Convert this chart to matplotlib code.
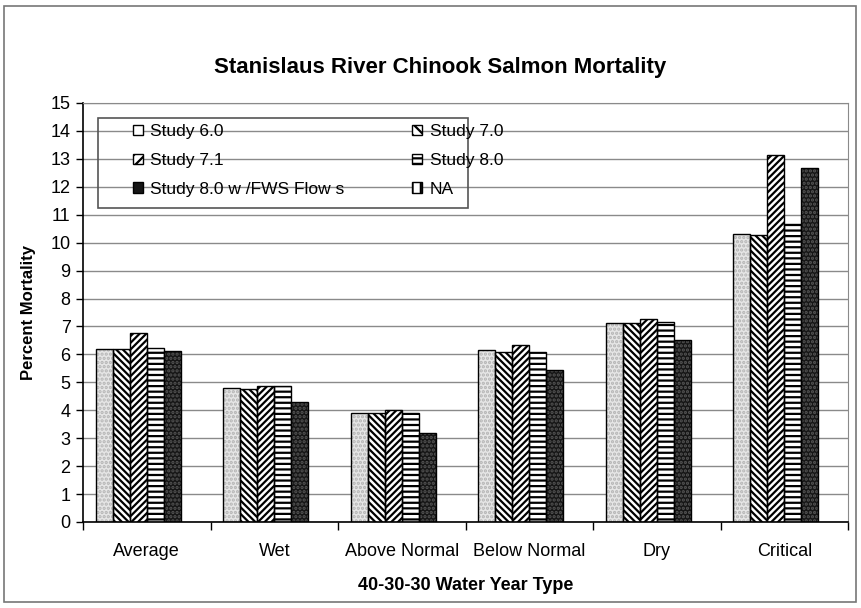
import numpy as np
import matplotlib.pyplot as plt
from matplotlib.patches import Patch, Rectangle

# values (percent mortality)
categories = ["Average", "Wet", "Above Normal", "Below Normal", "Dry", "Critical"]
study_60 = [6.18, 4.79, 3.90, 6.15, 7.12, 10.32]
study_70 = [6.18, 4.76, 3.92, 6.08, 7.12, 10.26]
study_71 = [6.76, 4.88, 4.02, 6.33, 7.27, 13.14]
study_80 = [6.24, 4.88, 3.90, 6.08, 7.15, 10.68]
study_80_fws = [6.12, 4.29, 3.18, 5.45, 6.53, 12.68]
study_na = [np.nan] * 6

plt.rcParams['font.family'] = ['Liberation Sans', 'DejaVu Sans']
plt.rcParams['hatch.linewidth'] = 1.6

BS = chr(92)  # backslash, for the "\" hatch

W, H = 861, 608
fig = plt.figure(figsize=(W / 100, H / 100), dpi=100)
ax = fig.add_axes([83 / W, 1 - 522 / H, (848 - 83) / W, (522 - 103) / H])

x = np.arange(len(categories))
w = 0.8 / 6

# (values, face, hatch, hatch colour)
series = [
    (study_60, '#e6e6e6', '....', '#b4b4b4'),
    (study_70, 'white', BS * 5, 'black'),
    (study_71, 'white', '/' * 5, 'black'),
    (study_80, 'white', '---', 'black'),
    (study_80_fws, '#161616', '....', '#555555'),
    (study_na, 'white', '||', 'black'),
]
for i, (vals, face, hatch, hcol) in enumerate(series):
    pos = x + (i - 2.5) * w
    ax.bar(pos, vals, w, color=face, hatch=hatch, edgecolor=hcol, linewidth=0, zorder=2)
    ax.bar(pos, vals, w, fill=False, edgecolor='black', linewidth=1.0, zorder=3)

ax.set_ylim(0, 15)
ax.set_yticks(range(16))
ax.set_xlim(-0.5, 5.5)
ax.set_xticks(x)
ax.set_xticklabels(categories, fontsize=13)
ax.set_xticks(np.arange(-0.5, 6, 1), minor=True)
ax.tick_params(axis='x', which='major', length=0, pad=15)
ax.tick_params(axis='x', which='minor', length=6, width=1, direction='out')
ax.tick_params(axis='y', labelsize=13, length=5, width=1, direction='out', pad=4)

ax.set_axisbelow(True)
ax.yaxis.grid(True, color='#8a8a8a', linewidth=1)
for s in ['top', 'right']:
    ax.spines[s].set_color('#8a8a8a')
for s in ['left', 'bottom']:
    ax.spines[s].set_color('black')
    ax.spines[s].set_linewidth(1.2)

ax.set_ylabel("Percent Mortality", fontsize=12, fontweight='bold', labelpad=10)
ax.set_xlabel("40-30-30 Water Year Type", fontsize=13, fontweight='bold', labelpad=12)
fig.text(440 / W, 1 - 67 / H, "Stanislaus River Chinook Salmon Mortality",
         fontsize=16, fontweight='bold', ha='center', va='center')

# legend
labels = ["Study 6.0", "Study 7.0", "Study 7.1", "Study 8.0",
          "Study 8.0 w /FWS Flow s", "NA"]
handles = [
    Patch(facecolor='white', edgecolor='black'),
    Patch(facecolor='white', edgecolor='black', hatch=BS * 3),
    Patch(facecolor='white', edgecolor='black', hatch='///'),
    Patch(facecolor='white', edgecolor='black', hatch='---'),
    Patch(facecolor='#161616', edgecolor='black'),
    Patch(facecolor='white', edgecolor='black', hatch='||'),
]
# legend order in the reference: rows are (6.0, 7.0), (7.1, 8.0), (8.0w, NA)
order = [0, 2, 4, 1, 3, 5]
fig.add_artist(Rectangle((98 / W, 1 - 208 / H), 370 / W, 90 / H,
                         transform=fig.transFigure, fill=False,
                         edgecolor='#555555', linewidth=1.2, zorder=4))
leg = fig.legend([handles[i] for i in order], [labels[i] for i in order],
                 ncol=2, loc='upper left', bbox_to_anchor=(133 / W, 1 - 124 / H),
                 frameon=False, fontsize=12.5, handlelength=0.55, handleheight=0.55,
                 handletextpad=0.45, labelspacing=0.8, columnspacing=3.9,
                 borderpad=0, borderaxespad=0)

# outer frame of the chart
fig.add_artist(Rectangle((4 / W, 6 / H), 852 / W, 596 / H, transform=fig.transFigure,
                         fill=False, edgecolor='#777777', linewidth=1.2))

fig.savefig("out.png", dpi=100)
